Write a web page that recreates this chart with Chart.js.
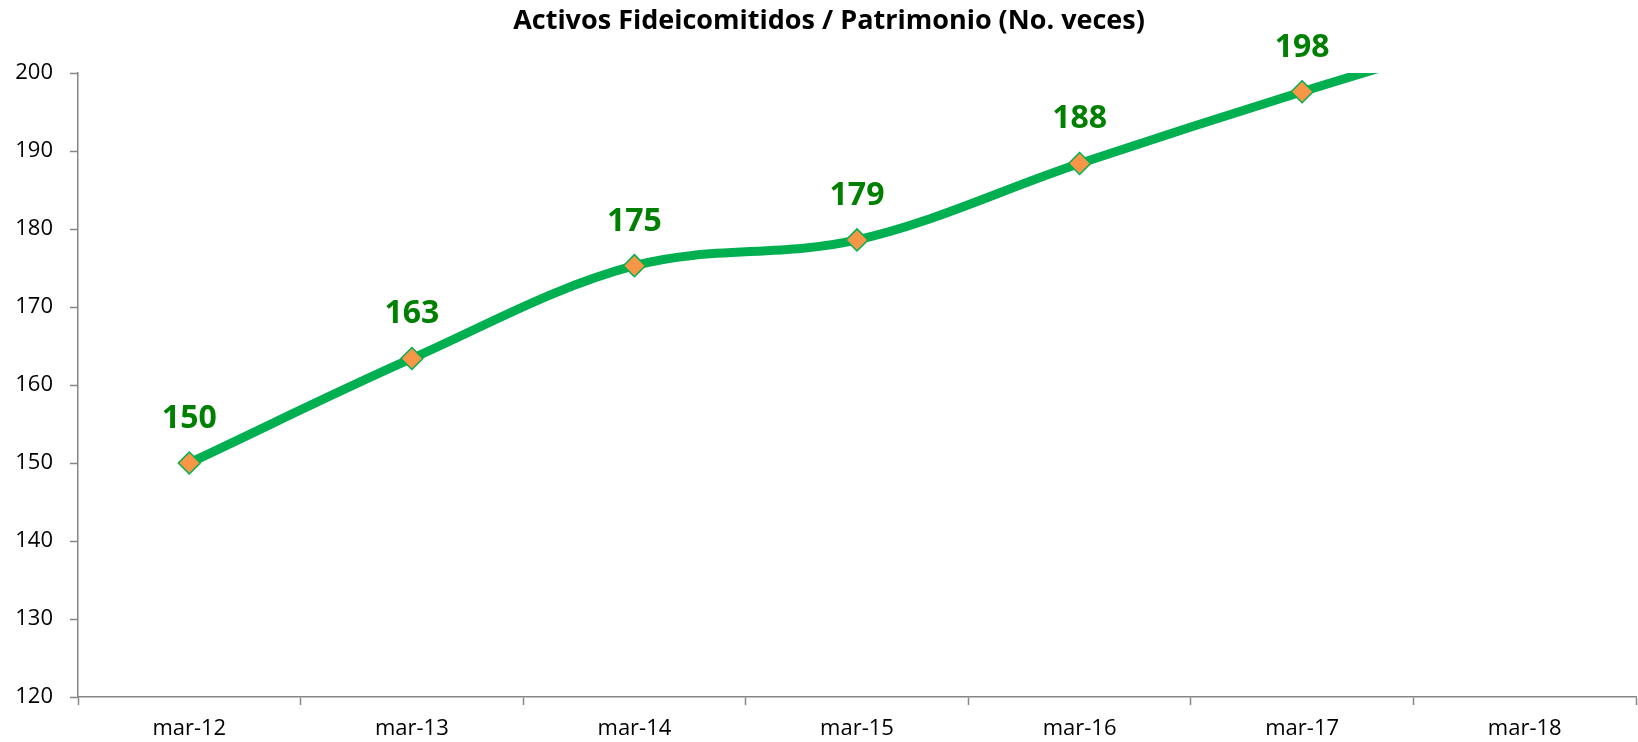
<!DOCTYPE html>
<html>
<head>
<meta charset="utf-8">
<title>Activos Fideicomitidos / Patrimonio</title>
<script src="https://cdn.jsdelivr.net/npm/chart.js@4.4.0/dist/chart.umd.min.js"></script>
<style>
html,body{margin:0;padding:0;background:#fff;overflow:hidden}
</style>
</head>
<body>
<canvas id="chart" width="1638" height="742"></canvas>
<script>
const TITLE="Activos Fideicomitidos / Patrimonio (No. veces)";
const labels=["mar-12","mar-13","mar-14","mar-15","mar-16","mar-17","mar-18"];
const values=[150.0,163.4,175.3,178.6,188.4,197.6,206.2];
const Y_MIN=120, Y_MAX=200, Y_STEP=10;

const FONT='"Open Sans", "DejaVu Sans", sans-serif';
const axisGray='#868686';

// value labels above each visible point
const topLabels={id:'topLabels',afterDatasetsDraw(chart){
    const ctx=chart.ctx;
    const meta=chart.getDatasetMeta(0);
    ctx.save();
    ctx.font='bold 32px '+FONT;
    ctx.fillStyle='#008000';
    ctx.textAlign='center';
    ctx.textBaseline='alphabetic';
    meta.data.forEach((p,i)=>{
        if(values[i]>Y_MAX) return;
        ctx.fillText(String(Math.round(values[i])),p.x,p.y-35);
    });
    ctx.restore();
}};

// title drawn a bit right of canvas centre, like the original
const titlePlugin={id:'titlePlugin',afterDraw(chart){
    const ctx=chart.ctx;
    ctx.save();
    ctx.font='bold 27px '+FONT;
    ctx.fillStyle='#000';
    ctx.textAlign='center';
    ctx.textBaseline='alphabetic';
    ctx.fillText(TITLE,829,29);
    ctx.restore();
}};

new Chart(document.getElementById('chart').getContext('2d'),{
    type:'line',
    data:{labels:labels,datasets:[{
        data:values,
        borderColor:'#00B050',
        borderWidth:9,
        tension:0.35,
        clip:0,
        fill:false,
        pointStyle:'rectRot',
        pointRadius:values.map(v=>v>Y_MAX?0:11),
        pointBorderWidth:values.map(v=>v>Y_MAX?0:1.5),
        pointBackgroundColor:'#F79646',
        pointBorderColor:'#00B050'
    }]},
    options:{
        responsive:false,
        animation:false,
        events:[],
        layout:{autoPadding:false,padding:{top:73,right:2,left:0,bottom:0}},
        elements:{line:{capBezierPoints:false}},
        plugins:{legend:{display:false},tooltip:{enabled:false},title:{display:false}},
        scales:{
            x:{
                offset:true,
                grid:{offset:true,drawOnChartArea:false,drawTicks:true,tickLength:8,tickColor:axisGray,tickWidth:1.5},
                border:{color:axisGray,width:1.5},
                ticks:{color:'#000',font:{family:FONT,size:22},padding:11,maxRotation:0,autoSkip:false},
                afterFit:s=>{s.height=45;s.paddingLeft=0;s.paddingRight=0;}
            },
            y:{
                min:Y_MIN,max:Y_MAX,
                grid:{drawOnChartArea:false,drawTicks:true,tickLength:8,tickColor:axisGray,tickWidth:1.5},
                border:{color:axisGray,width:1.5},
                ticks:{stepSize:Y_STEP,color:'#000',font:{family:FONT,size:22},padding:17},
                afterFit:s=>{s.width=78;}
            }
        }
    },
    plugins:[topLabels,titlePlugin]
});
</script>
</body>
</html>
